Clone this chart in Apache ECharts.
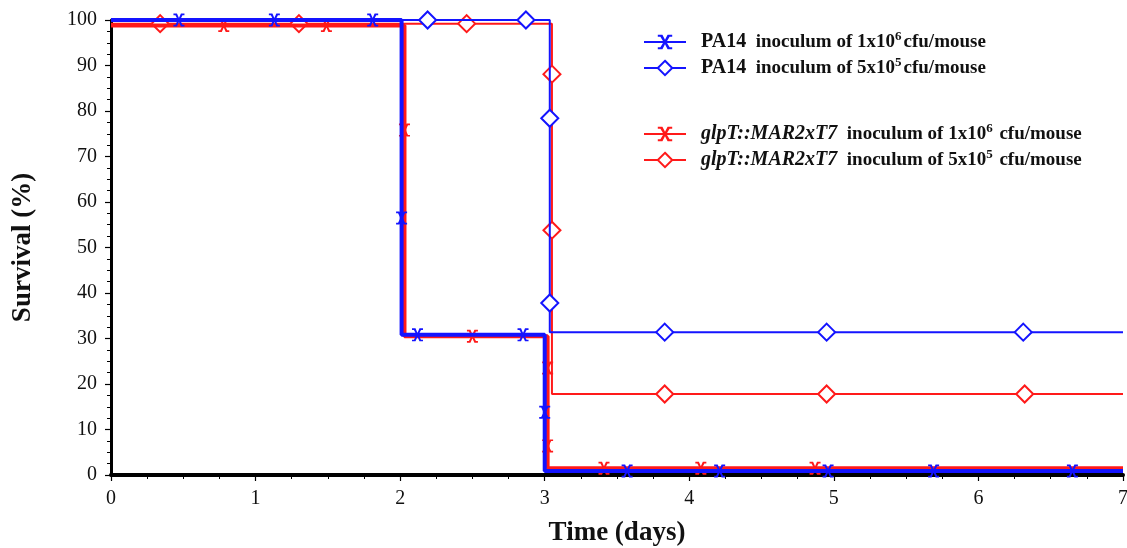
<!DOCTYPE html>
<html>
<head>
<meta charset="utf-8">
<script src="https://cdn.jsdelivr.net/npm/echarts@6/dist/echarts.min.js"></script>
<style>html,body{margin:0;padding:0;background:#fff}#c{width:1127px;height:548px}</style>
</head>
<body>
<div id="c"></div>
<script>
// ---- data ----
const seriesNames = ['PA14 1e6', 'PA14 5e5', 'glpT 1e6', 'glpT 5e5'];
const xTicks = [0, 1, 2, 3, 4, 5, 6, 7];
const yTicks = [0, 10, 20, 30, 40, 50, 60, 70, 80, 90, 100];

// step-curve vertices [time, survival]
const pa14HighSteps = [[0,100],[2.01,100],[2.01,30.8],[3.0,30.8],[3.0,0.9],[7,0.9]];
const pa14HighMarks = [[0.47,100],[1.13,100],[1.81,100],[2.01,56.5],[2.12,30.8],[2.85,30.8],[3.0,13.8],[3.57,0.9],[4.21,0.9],[4.96,0.9],[5.69,0.9],[6.65,0.9]];

const pa14LowSteps = [[0,100],[3.035,100],[3.035,31.4],[7,31.4]];
const pa14LowMarks = [[2.19,100],[2.87,100],[3.035,78.4],[3.035,37.8],[3.83,31.4],[4.95,31.4],[6.31,31.4]];

const glpHighSteps = [[0,98.8],[2.03,98.8],[2.03,30.5],[3.02,30.5],[3.02,1.5],[7,1.5]];
const glpHighMarks = [[0.78,98.8],[1.49,98.8],[2.03,75.8],[2.50,30.5],[3.02,23.5],[3.02,6.4],[3.41,1.5],[4.08,1.5],[4.87,1.5]];

const glpLowSteps = [[0,99.2],[3.05,99.2],[3.05,17.8],[7,17.8]];
const glpLowMarks = [[0.34,99.2],[1.30,99.2],[2.46,99.2],[3.05,88.1],[3.05,53.8],[3.83,17.8],[4.95,17.8],[6.32,17.8]];

// ---- build ----
function buildPath(steps, marks) {
  const pts = steps.map(p => ({value: p, symbol: 'none'}))
    .concat(marks.map(p => ({value: p})));
  pts.sort((a, b) => a.value[0] - b.value[0] || b.value[1] - a.value[1]);
  return pts;
}
const BLUE = '#1414ff', RED = '#ff1a1a';
const XSYM = 'path://M0,0H3.2L5,4.2L6.8,0H10V1.6H8.2L6,6L8.2,10.4H10V12H6.8L5,7.8L3.2,12H0V10.4H1.8L4,6L1.8,1.6H0Z';

const labelMap = {
  'PA14 1e6': '{b|PA14}{n|  inoculum of 1x10}{s|6}{n|cfu/mouse}',
  'PA14 5e5': '{b|PA14}{n|  inoculum of 5x10}{s|5}{n|cfu/mouse}',
  'glpT 1e6': '{i|glpT::MAR2xT7}{n|  inoculum of 1x10}{s|6}{n| cfu/mouse}',
  'glpT 5e5': '{i|glpT::MAR2xT7}{n|  inoculum of 5x10}{s|5}{n| cfu/mouse}'
};
const FONT = '"Liberation Serif", "Times New Roman", serif';
const rich = {
  b: {fontFamily: FONT, fontWeight: 'bold', fontSize: 20, color: '#111', padding: [0,0,0,10], lineHeight: 24},
  i: {fontFamily: FONT, fontWeight: 'bold', fontStyle: 'italic', fontSize: 20, color: '#111', padding: [0,0,0,10], lineHeight: 24},
  n: {fontFamily: FONT, fontWeight: 'bold', fontSize: 19, color: '#111', lineHeight: 24},
  s: {fontFamily: FONT, fontWeight: 'bold', fontSize: 13, color: '#111', lineHeight: 13, verticalAlign: 'top', padding: [0,2,0,0]}
};
const legendCommon = {
  orient: 'vertical', itemWidth: 42, itemHeight: 18, itemGap: 4,
  formatter: name => labelMap[name],
  textStyle: {rich: rich}
};

const option = {
  animation: false,
  backgroundColor: '#fff',
  grid: {left: 111, right: 4, top: 20, bottom: 73, containLabel: false, outerBoundsMode: 'none'},
  legend: [
    Object.assign({left: 638, top: 25, data: [seriesNames[0], seriesNames[1]]}, legendCommon),
    Object.assign({left: 638, top: 117, data: [seriesNames[2], seriesNames[3]]}, legendCommon)
  ],
  xAxis: {
    type: 'value', min: xTicks[0], max: xTicks[xTicks.length-1], interval: 1,
    name: 'Time (days)', nameLocation: 'middle', nameGap: 45,
    nameTextStyle: {fontFamily: FONT, fontWeight: 'bold', fontSize: 27, color: '#111'},
    axisLine: {onZero: false, lineStyle: {color: '#000', width: 4}},
    axisTick: {length: 6, lineStyle: {color: '#000', width: 1.2}},
    minorTick: {show: true, splitNumber: 4, length: 4, lineStyle: {color: '#000', width: 1}},
    axisLabel: {fontFamily: FONT, fontSize: 20, color: '#111', margin: 14},
    splitLine: {show: false}
  },
  yAxis: {
    type: 'value', min: yTicks[0], max: yTicks[yTicks.length-1], interval: 10,
    name: 'Survival (%)', nameLocation: 'middle', nameGap: 74,
    nameTextStyle: {fontFamily: FONT, fontWeight: 'bold', fontSize: 27, color: '#111'},
    axisLine: {show: true, lineStyle: {color: '#000', width: 3}},
    axisTick: {show: true, length: 6, lineStyle: {color: '#000', width: 1.2}},
    minorTick: {show: true, splitNumber: 4, length: 4, lineStyle: {color: '#000', width: 1}},
    axisLabel: {fontFamily: FONT, fontSize: 20, color: '#111', margin: 14},
    splitLine: {show: false}
  },
  series: [
    {name: seriesNames[3], type: 'line', z: 2, data: buildPath(glpLowSteps, glpLowMarks),
     symbol: 'diamond', symbolSize: 17, showSymbol: true,
     lineStyle: {color: RED, width: 2}, itemStyle: {color: '#fff', borderColor: RED, borderWidth: 2}},
    {name: seriesNames[1], type: 'line', z: 3, data: buildPath(pa14LowSteps, pa14LowMarks),
     symbol: 'diamond', symbolSize: 17, showSymbol: true,
     lineStyle: {color: BLUE, width: 2}, itemStyle: {color: '#fff', borderColor: BLUE, borderWidth: 2}},
    {name: seriesNames[2], type: 'line', z: 4, data: buildPath(glpHighSteps, glpHighMarks),
     symbol: XSYM, symbolSize: [11, 13], showSymbol: true,
     lineStyle: {color: RED, width: 4}, itemStyle: {color: RED}},
    {name: seriesNames[0], type: 'line', z: 5, data: buildPath(pa14HighSteps, pa14HighMarks),
     symbol: XSYM, symbolSize: [11, 13], showSymbol: true,
     lineStyle: {color: BLUE, width: 4}, itemStyle: {color: BLUE}}
  ]
};
const chart = echarts.init(document.getElementById('c'), null, {renderer: 'canvas'});
chart.setOption(option);
</script>
</body>
</html>
